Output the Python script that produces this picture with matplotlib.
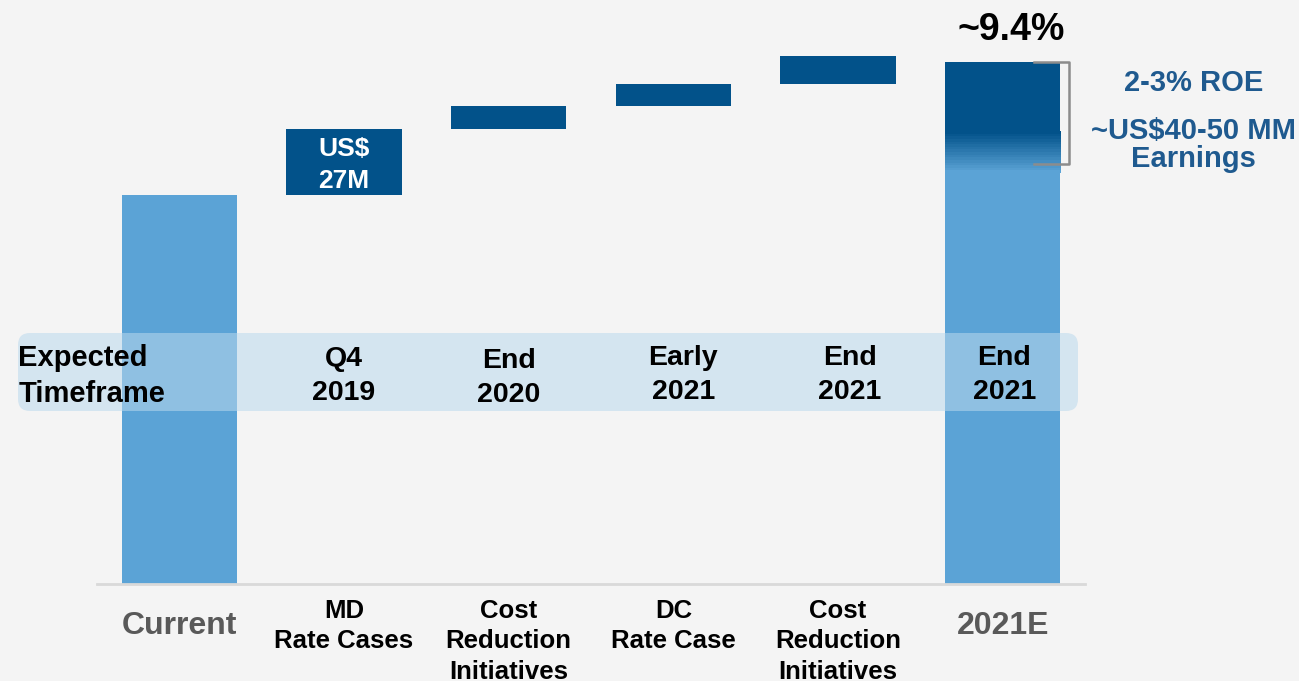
import matplotlib
matplotlib.use("Agg")
import matplotlib.pyplot as plt
import numpy as np
from matplotlib.patches import FancyBboxPatch
from matplotlib.colors import LinearSegmentedColormap

plt.rcParams['font.family'] = ['Liberation Sans', 'DejaVu Sans']
plt.rcParams['font.weight'] = 'bold'

# data (ROE %)
categories = ['Current', 'MD\nRate Cases', 'Cost\nReduction\nInitiatives',
              'DC\nRate Case', 'Cost\nReduction\nInitiatives', '2021E']
current_roe = 7.0
steps = [1.2, 0.4, 0.4, 0.5]
target_roe = 9.4
timeframes = ['Q4\n2019', 'End\n2020', 'Early\n2021', 'End\n2021', 'End\n2021']
step_label = 'US$\n27M'
uplift_low = 7.56      # bracket bottom on 2021E bar
grad_low, grad_high = 7.40, 8.14

light = '#5ba3d6'
dark = '#02528a'
bg = '#f4f4f4'

fig = plt.figure(figsize=(12.99, 6.81), dpi=100, facecolor=bg)
ax = fig.add_axes([97/1299, 97/681, 988/1299, 584/681])
ax.set_facecolor(bg)
k = target_roe / 522.0  # value per pixel
def py(p):
    return (584 - p) * k

x = np.arange(len(categories))
w = 0.7

# current and final bars
ax.bar(x[0], current_roe, width=w, color=light, zorder=2)
ax.bar(x[-1], target_roe, width=w, color=light, zorder=2)

# floating steps
bottoms = current_roe + np.concatenate([[0], np.cumsum(steps)[:-1]])
ax.bar(x[1:5], steps, bottom=bottoms, width=w, color=dark, zorder=2)

# gradient on final bar
cmap = LinearSegmentedColormap.from_list('g', [light, dark])
grad = np.linspace(0, 1, 16).reshape(-1, 1)
ax.imshow(grad, extent=[x[-1]-w/2, x[-1]+w/2, grad_low, grad_high], origin='lower',
          cmap=cmap, aspect='auto', interpolation='nearest', zorder=2.1)
ax.bar(x[-1], target_roe - grad_high, bottom=grad_high, width=w, color=dark, zorder=2.2)

ax.set_xlim(-0.5, 5.5)
ax.set_ylim(0, 584 * k)
for s in ['top', 'right', 'left']:
    ax.spines[s].set_visible(False)
ax.spines['bottom'].set_color('#d9d9d9')
ax.spines['bottom'].set_linewidth(2)
ax.set_xticks([])
ax.set_yticks([])

# step label
ax.text(x[1], bottoms[0] + steps[0]/2 - 3.5 * k, step_label, color='white', fontsize=19,
        ha='center', va='center', linespacing=1.42, zorder=3)

# category labels
for i, c in enumerate(categories):
    if i in (0, len(categories) - 1):
        ax.text(x[i], py(626), c, ha='center', va='center', fontsize=23,
                color='#595959', clip_on=False)
    else:
        ax.text(x[i], py(599), c, ha='center', va='top', fontsize=18.5,
                color='black', linespacing=1.33, clip_on=False)

# timeframe band
band = FancyBboxPatch((0.18, 2.70), 10.60, 0.78,
                      boxstyle='round,pad=0,rounding_size=0.12',
                      transform=fig.dpi_scale_trans, facecolor='#bad9ed',
                      edgecolor='none', alpha=0.55, zorder=3, clip_on=False)
ax.add_patch(band)
ax.text(-0.5 - 79/165, py(376), 'Expected\nTimeframe', ha='left', va='center',
        fontsize=21, linespacing=1.36, zorder=4, clip_on=False)
tf_offsets = [0.0, 0.0, 0.06, 0.07, 0.01]
tf_y = [376, 378, 375, 375, 375]
for i, t in enumerate(timeframes):
    ax.text(x[i+1] + tf_offsets[i], py(tf_y[i]), t, ha='center', va='center',
            fontsize=20.5, linespacing=1.36, zorder=4)

# top value
ax.text(x[-1] + 0.05, py(30), '~9.4%', ha='center', va='center', fontsize=27,
        color='black', clip_on=False)

# bracket
bx0, bx1 = 5.19, 5.40
ax.plot([bx0, bx1, bx1, bx0], [target_roe, target_roe, uplift_low, uplift_low],
        color='#8c8c8c', lw=1.8, zorder=3, clip_on=False)

blue_txt = '#1f5a8f'
ax.text(6.16, py(83), '2-3% ROE', ha='center', va='center', fontsize=21,
        color=blue_txt, clip_on=False)
ax.text(6.16, py(131), '~US$40-50 MM', ha='center', va='center', fontsize=21,
        color=blue_txt, clip_on=False)
ax.text(6.16, py(159), 'Earnings', ha='center', va='center', fontsize=21,
        color=blue_txt, clip_on=False)

fig.savefig('out.png', dpi=100, facecolor=bg)
